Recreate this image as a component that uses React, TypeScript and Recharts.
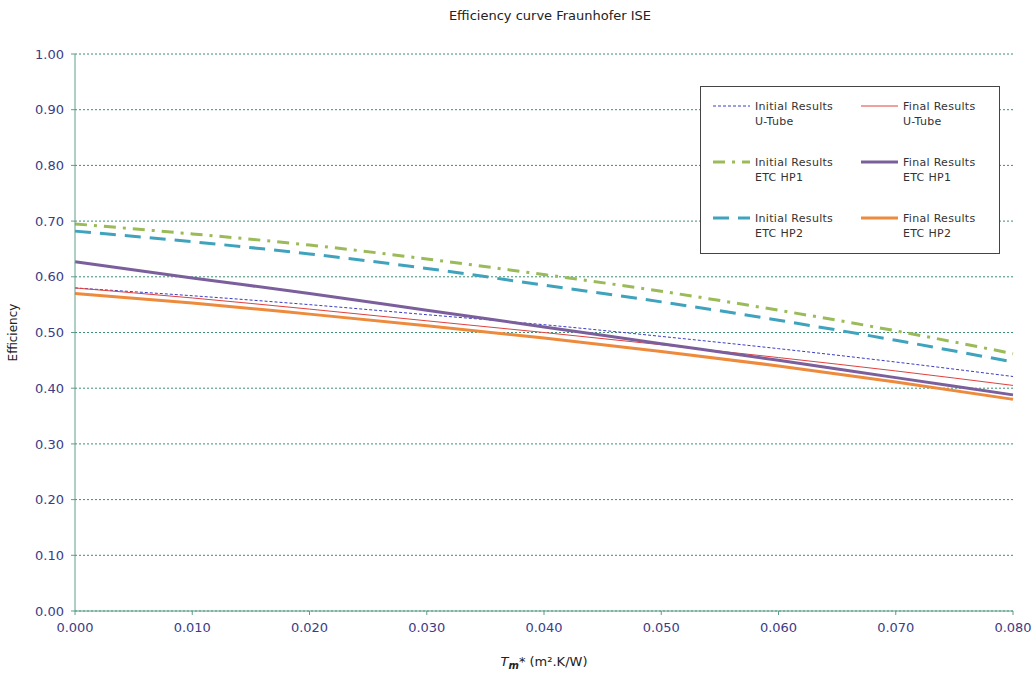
import { LineChart, Line, XAxis, YAxis, CartesianGrid, Label } from 'recharts';

// Tm* values (m².K/W)
const tm = [0, 0.01, 0.02, 0.03, 0.04, 0.05, 0.06, 0.07, 0.08];

// efficiency
const initUTube = [0.58, 0.566, 0.55, 0.532, 0.514, 0.493, 0.471, 0.447, 0.421];
const finalUTube = [0.58, 0.562, 0.542, 0.521, 0.5, 0.478, 0.455, 0.431, 0.405];
const initHP1 = [0.695, 0.677, 0.657, 0.632, 0.604, 0.574, 0.54, 0.503, 0.462];
const finalHP1 = [0.627, 0.598, 0.57, 0.54, 0.51, 0.48, 0.45, 0.419, 0.388];
const initHP2 = [0.682, 0.663, 0.641, 0.615, 0.585, 0.555, 0.522, 0.486, 0.447];
const finalHP2 = [0.57, 0.553, 0.533, 0.512, 0.49, 0.466, 0.44, 0.411, 0.38];

const xTicks = [0, 0.01, 0.02, 0.03, 0.04, 0.05, 0.06, 0.07, 0.08];
const yTicks = [0, 0.1, 0.2, 0.3, 0.4, 0.5, 0.6, 0.7, 0.8, 0.9, 1.0];

const data = tm.map((x, i) => ({
  x,
  initUTube: initUTube[i],
  finalUTube: finalUTube[i],
  initHP1: initHP1[i],
  finalHP1: finalHP1[i],
  initHP2: initHP2[i],
  finalHP2: finalHP2[i],
}));

const series = [
  { key: 'initUTube', l1: 'Initial Results', l2: 'U-Tube', color: '#3d3dc4', width: 1, dash: '3 2' },
  { key: 'finalUTube', l1: 'Final Results', l2: 'U-Tube', color: '#e0403f', width: 1, dash: undefined },
  { key: 'initHP1', l1: 'Initial Results', l2: 'ETC HP1', color: '#9bbb59', width: 3, dash: '12 7 3 7' },
  { key: 'finalHP1', l1: 'Final Results', l2: 'ETC HP1', color: '#7b5f9c', width: 3, dash: undefined },
  { key: 'initHP2', l1: 'Initial Results', l2: 'ETC HP2', color: '#3fa3bd', width: 3, dash: '16 9' },
  { key: 'finalHP2', l1: 'Final Results', l2: 'ETC HP2', color: '#ee8a3c', width: 3, dash: undefined },
];

const font = '"DejaVu Sans", Verdana, sans-serif';
const tickColor = '#3c3c86';
const axisColor = '#5e9e8a';

function LegendBox() {
  return (
    <div style={{ position: 'absolute', left: 700, top: 86, width: 300, height: 168, border: '1px solid #444', background: '#fff', fontFamily: font, fontSize: 11, color: '#333', boxSizing: 'border-box' }}>
      {series.map((s, i) => {
        const col = i % 2;
        const row = Math.floor(i / 2);
        return (
          <div key={s.key} style={{ position: 'absolute', left: 11 + col * 148, top: 12 + row * 56, display: 'flex' }}>
            <svg width={40} height={14}>
              <line x1={1} y1={7} x2={38} y2={7} stroke={s.color} strokeWidth={s.width} strokeDasharray={s.dash} />
            </svg>
            <div style={{ marginLeft: 3, lineHeight: '15px', letterSpacing: 0.3 }}>
              <div>{s.l1}</div>
              <div>{s.l2}</div>
            </div>
          </div>
        );
      })}
    </div>
  );
}

export default function App() {
  return (
    <div style={{ position: 'absolute', left: 0, top: 0, width: 1035, height: 673, background: '#fff', fontFamily: font }}>
      <div style={{ position: 'absolute', left: 0, top: 8, width: 1100, textAlign: 'center', fontSize: 13, color: '#222' }}>
        Efficiency curve Fraunhofer ISE
      </div>
      <LineChart width={1035} height={673} data={data} margin={{ top: 54, right: 22, bottom: 0, left: 0 }}>
        <CartesianGrid horizontal vertical={false} stroke="#3a9070" strokeDasharray="2 2" />
        <XAxis
          dataKey="x"
          type="number"
          domain={[0, 0.08]}
          ticks={xTicks}
          tickFormatter={(v: number) => v.toFixed(3)}
          stroke={axisColor}
          height={62}
          tick={{ fill: tickColor, fontSize: 13, fontFamily: font }}
          tickSize={4}
          tickMargin={8}
        >
          <Label
            content={({ viewBox }: any) => (
              <text x={viewBox.x + viewBox.width / 2} y={viewBox.y + 55} textAnchor="middle" fontFamily={font} fontSize={13} fill="#222">
                <tspan fontStyle="italic">T</tspan>
                <tspan fontStyle="italic" fontWeight="bold" fontSize={10} dy={3}>m</tspan>
                <tspan dy={-3}>* (m².K/W)</tspan>
              </text>
            )}
          />
        </XAxis>
        <YAxis
          type="number"
          domain={[0, 1]}
          ticks={yTicks}
          tickFormatter={(v: number) => v.toFixed(2)}
          width={75}
          stroke={axisColor}
          tick={{ fill: tickColor, fontSize: 13, fontFamily: font }}
          tickSize={4}
          tickMargin={7}
        >
          <Label value="Efficiency" angle={-90} position="insideLeft" offset={13} style={{ textAnchor: 'middle', fontSize: 12, fill: '#222', fontFamily: font }} />
        </YAxis>
        {series.map((s) => (
          <Line
            key={s.key}
            dataKey={s.key}
            type="monotone"
            stroke={s.color}
            strokeWidth={s.width}
            strokeDasharray={s.dash}
            dot={false}
            isAnimationActive={false}
          />
        ))}
      </LineChart>
      <LegendBox />
    </div>
  );
}
